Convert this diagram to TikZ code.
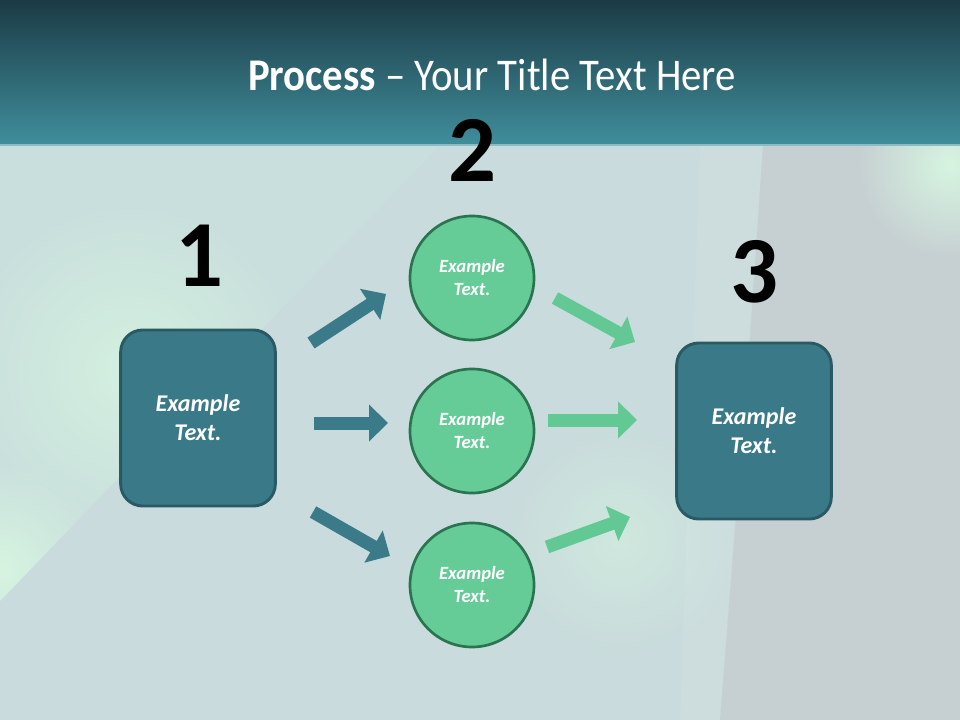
\documentclass[tikz,border=0pt]{standalone}
\usepackage{fontspec}
\setmainfont{Carlito}
\usetikzlibrary{arrows.meta, positioning, fadings}
\definecolor{hdtop}{HTML}{1B3B45}
\definecolor{hdbot}{HTML}{408E9C}
\definecolor{bgbase}{HTML}{C9DBDC}
\definecolor{bgleft}{HTML}{C9DFDD}
\definecolor{bggray}{HTML}{C6CFD2}
\definecolor{bgglow}{HTML}{D6F5E0}
\definecolor{boxfill}{HTML}{3A7A88}
\definecolor{boxline}{HTML}{295A64}
\definecolor{circfill}{HTML}{65CC98}
\definecolor{circline}{HTML}{2A7550}
\definecolor{tealarr}{HTML}{3B7B89}
\definecolor{greenarr}{HTML}{62C994}
\tikzfading[name=glowfade, inner color=transparent!0, outer color=transparent!100]

\begin{document}
\begin{tikzpicture}[x=0.75pt, y=-0.75pt,
    procbox/.style={draw=boxline, line width=2.2pt, fill=boxfill, rounded corners=16.5pt,
        minimum width=116pt, minimum height=132pt, text=white, align=center,
        font=\bfseries\itshape\fontsize{18}{21.75}\selectfont},
    proccirc/.style={circle, draw=circline, line width=2pt, fill=circfill,
        minimum size=93pt, text=white, align=center,
        font=\bfseries\itshape\fontsize{14}{17.25}\selectfont},
    stepnum/.style={inner sep=0pt, font=\bfseries\fontsize{71}{71}\selectfont},
    tarrow/.style={draw=tealarr, line width=9.75pt, -{Triangle[width=27pt, length=14.25pt]}},
    garrow/.style={draw=greenarr, line width=9.75pt, -{Triangle[width=27pt, length=14.25pt]}}]
    % background
    \fill[bgbase] (0,0) rectangle (960,720);
    \useasboundingbox (0,0) rectangle (960,720);
    \begin{scope}
        \clip (0,145) -- (440,145) -- (0,601) -- cycle;
        \fill[bgleft] (0,145) rectangle (440,601);
        \fill[bgglow, opacity=0.8, path fading=glowfade] (130,370) circle (170);
        \fill[bgglow, path fading=glowfade] (0,570) circle (110);
    \end{scope}
    \fill[bgbase!85!white, opacity=0.5] (700,145) -- (763,145) -- (720,720) -- (680,720) -- cycle;
    \fill[bggray] (763,145) -- (960,145) -- (960,720) -- (720,720) -- (750,340) -- cycle;
    \fill[bgglow, path fading=glowfade] (950,165) circle (95);
    \fill[bgglow, opacity=0.5, path fading=glowfade] (620,540) circle (120);
    % header
    \shade[top color=hdtop, bottom color=hdbot] (0,0) rectangle (960,145);
    \draw[hdbot!60!white, line width=1pt] (0,145) -- (960,145);
    \node[text=white, font=\fontsize{34}{40}\selectfont\addfontfeature{FakeStretch=0.9}] (title) at (492,75)
        {\textbf{Process} -- Your Title Text Here};
    % steps
    \node[procbox] (b1) at (198,418) {Example\\Text.};
    \node[proccirc] (c1) at (472,278) {Example\\Text.};
    \node[proccirc] (c2) at (472,431) {Example\\Text.};
    \node[proccirc] (c3) at (472,585) {Example\\Text.};
    \node[procbox] (b3) at (754,431) {Example\\Text.};
    \node[stepnum] (n1) at (199,256) {1};
    \node[stepnum] (n2) at (472,150) {2};
    \node[stepnum] (n3) at (754,272) {3};
    % arrows
    \coordinate (t1s) at (311,343); \coordinate (t1e) at (386,294);
    \coordinate (t2s) at (314,423); \coordinate (t2e) at (388,423);
    \coordinate (t3s) at (313,512); \coordinate (t3e) at (390,556);
    \coordinate (g1s) at (555,298); \coordinate (g1e) at (635,342);
    \coordinate (g2s) at (548,420); \coordinate (g2e) at (637,420);
    \coordinate (g3s) at (547,547); \coordinate (g3e) at (630,517);
    \draw[tarrow] (t1s) -- (t1e);
    \draw[tarrow] (t2s) -- (t2e);
    \draw[tarrow] (t3s) -- (t3e);
    \draw[garrow] (g1s) -- (g1e);
    \draw[garrow] (g2s) -- (g2e);
    \draw[garrow] (g3s) -- (g3e);
\end{tikzpicture}
\end{document}
